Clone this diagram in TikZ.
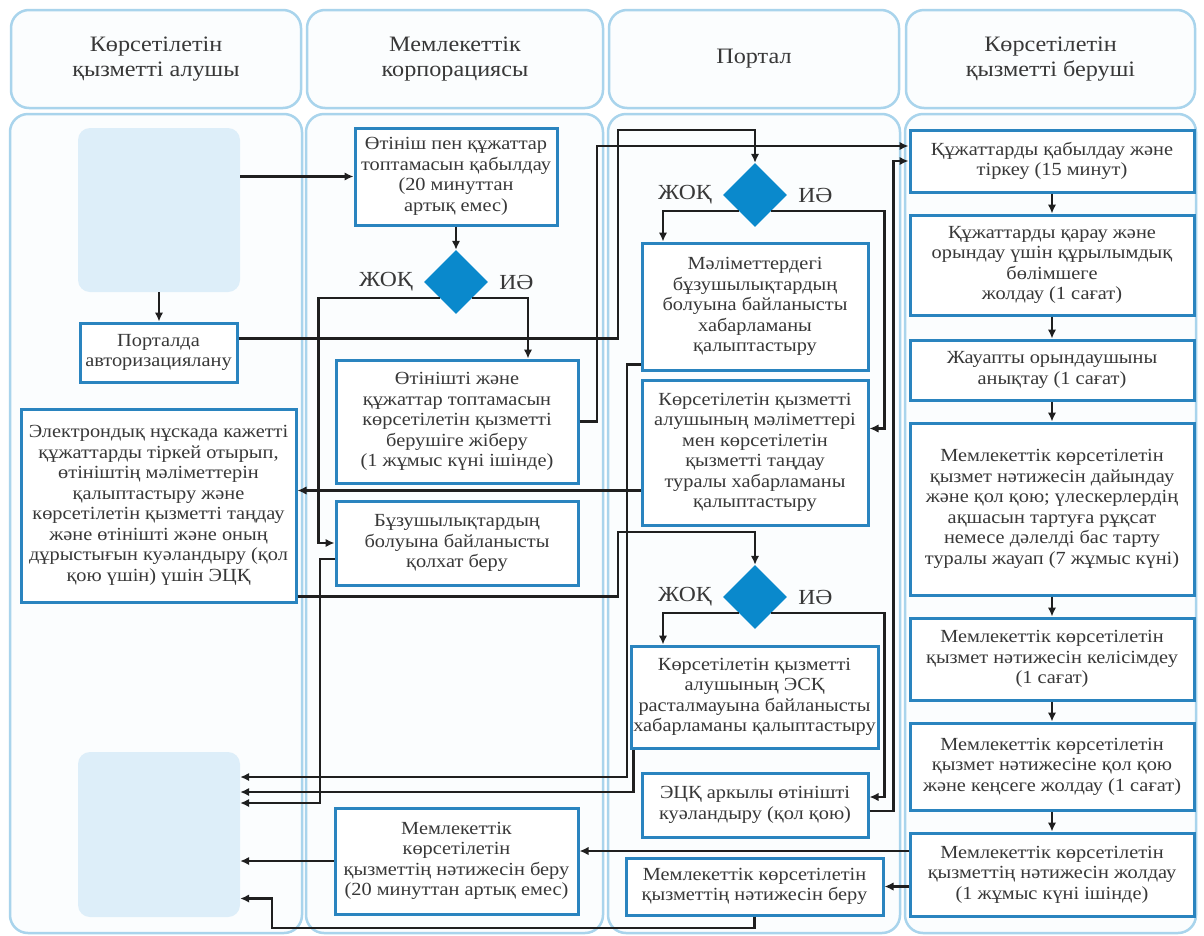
\documentclass[tikz,border=0pt]{standalone}
\usepackage{fontspec}
\setmainfont{Liberation Serif}[FakeStretch=1.1]
\usetikzlibrary{arrows.meta, shapes.geometric, positioning, calc}

\definecolor{lanecol}{HTML}{A9D4EC}
\definecolor{lanefill}{HTML}{FBFDFE}
\definecolor{boxcol}{HTML}{2A84BF}
\definecolor{phcol}{HTML}{DDEEF9}
\definecolor{deccol}{HTML}{0A89CC}
\definecolor{txtcol}{HTML}{383838}

\begin{document}
\begin{tikzpicture}[x=1pt, y=-1pt]

\tikzset{lane/.style = {draw=lanecol, line width=2.5, fill=lanefill, rounded corners=18}}
\tikzset{head/.style = {lane, align=center, text=txtcol, font=\fontsize{22}{25}\selectfont}}
\tikzset{box/.style = {shape=rectangle, draw=boxcol, line width=3, fill=white, align=center, inner sep=1, text=txtcol, font=\fontsize{18.5}{20.5}\selectfont}}
\tikzset{hole/.style = {fill=phcol, rounded corners=12, inner sep=0}}
\tikzset{choice/.style = {shape=diamond, fill=deccol, inner sep=0, minimum width=64, minimum height=64}}
\tikzset{yesno/.style = {text=txtcol, font=\fontsize{21.5}{21.5}\selectfont, inner sep=0}}
\tikzset{edge/.style = {->, > = {Latex[length=9pt, width=8.5pt]}, line width=2.2, draw=black!88}}

\fill[white] (0,0) rectangle (1204,935);
\useasboundingbox (0,0) rectangle (1204,935);
%lanes
\draw[lane] (10,114) rectangle (302,933);
\draw[lane] (306,114) rectangle (603,933);
\draw[lane] (608,114) rectangle (900,933);
\draw[lane] (905,114) rectangle (1196,933);
\node[head, minimum width=290, minimum height=98] (h1) at (156,59) {Көрсетілетін\\қызметті алушы};
\node[head, minimum width=296, minimum height=98] (h2) at (455,59) {Мемлекеттік\\корпорациясы};
\node[head, minimum width=290, minimum height=98] (h3) at (754,59) {Портал};
\node[head, minimum width=289, minimum height=98] (h4) at (1050.5,59) {Көрсетілетін\\қызметті беруші};

%boxes
\node[hole, minimum width=162, minimum height=164] (s1) at (159,210) {};
\node[box, minimum width=157, minimum height=59] (auth) at (158.5,352.5) {Порталда\\авторизациялану};
\node[box, minimum width=275, minimum height=193] (ecp) at (158.5,505.5) {Электрондық нұскада кажетті\\құжаттарды тіркей отырып,\\өтініштің мәліметтерін\\қалыптастыру және\\көрсетілетін қызметті таңдау\\және өтінішті және оның\\дұрыстығын куәландыру (қол\\қою үшін) үшін ЭЦҚ};
\node[hole, minimum width=162, minimum height=165] (s2) at (159,834.5) {};

\node[box, minimum width=202, minimum height=97] (rec) at (456,176.5) {Өтініш пен құжаттар\\топтамасын қабылдау\\(20 минуттан\\артық емес)};
\node[choice] (d1) at (456,282) {};
\node[yesno, left=11pt of d1] (n1) {ЖОҚ};
\node[yesno, right=11pt of d1] (y1) {ИӘ};
\node[box, minimum width=242, minimum height=123] (send) at (457,421.5) {Өтінішті және\\құжаттар топтамасын\\көрсетілетін қызметті\\берушіге жіберу\\(1 жұмыс күні ішінде)};
\node[box, minimum width=242, minimum height=84] (rcpt) at (457,543) {Бұзушылықтардың\\болуына байланысты\\қолхат беру};
\node[box, minimum width=243, minimum height=106] (res2) at (456.5,861) {Мемлекеттік\\көрсетілетін\\қызметтің нәтижесін беру\\(20 минуттан артық емес)};

\node[choice] (d2) at (755,195) {};
\node[yesno, left=11pt of d2] (n2) {ЖОҚ};
\node[yesno, right=11pt of d2] (y2) {ИӘ};
\node[box, minimum width=226, minimum height=127] (err) at (755,306.5) {Мәліметтердегі\\бұзушылықтардың\\болуына байланысты\\хабарламаны\\қалыптастыру};
\node[box, minimum width=226, minimum height=145] (ntf) at (755,452.5) {Көрсетілетін қызметті\\алушының мәліметтері\\мен көрсетілетін\\қызметті таңдау\\туралы хабарламаны\\қалыптастыру};
\node[choice] (d3) at (755,597) {};
\node[yesno, left=11pt of d3] (n3) {ЖОҚ};
\node[yesno, right=11pt of d3] (y3) {ИӘ};
\node[box, minimum width=247, minimum height=102] (esk) at (754.5,697) {Көрсетілетін қызметті\\алушының ЭСҚ\\расталмауына байланысты\\хабарламаны қалыптастыру};
\node[box, minimum width=226, minimum height=64] (sign) at (755,805) {ЭЦҚ аркылы өтінішті\\куәландыру (қол қою)};
\node[box, minimum width=257, minimum height=57] (res3) at (754.5,886.5) {Мемлекеттік көрсетілетін\\қызметтің нәтижесін беру};

\node[box, minimum width=284, minimum height=62] (b1) at (1052,161) {Құжаттарды қабылдау және\\тіркеу (15 минут)};
\node[box, minimum width=284, minimum height=100] (b2) at (1052,265) {Құжаттарды қарау және\\орындау үшін құрылымдық\\бөлімшеге\\жолдау (1 сағат)};
\node[box, minimum width=284, minimum height=60] (b3) at (1052,370) {Жауапты орындаушыны\\анықтау (1 сағат)};
\node[box, minimum width=284, minimum height=172] (b4) at (1052,509) {Мемлекеттік көрсетілетін\\қызмет нәтижесін дайындау\\және қол қою; үлескерлердің\\ақшасын тартуға рұқсат\\немесе дәлелді бас тарту\\туралы жауап (7 жұмыс күні)};
\node[box, minimum width=284, minimum height=82] (b5) at (1052,659) {Мемлекеттік көрсетілетін\\қызмет нәтижесін келісімдеу\\(1 сағат)};
\node[box, minimum width=284, minimum height=87] (b6) at (1052,766.5) {Мемлекеттік көрсетілетін\\қызмет нәтижесіне қол қою\\және кеңсеге жолдау (1 сағат)};
\node[box, minimum width=284, minimum height=83] (b7) at (1052,874.5) {Мемлекеттік көрсетілетін\\қызметтің нәтижесін жолдау\\(1 жұмыс күні ішінде)};

%edges
\draw[edge] (s1.east |- rec.west) -- (rec.west);
\draw[edge] (s1.south) -- (s1.south |- auth.north);
\draw[edge] (rec) -- (d1);
\draw[edge] (d1.south west) -| ($(rcpt.west)+(-16,0)$) -- (rcpt.west);
\draw[edge] (d1.south east) -| ($(send.north)+(71,0)$);
\draw[edge] ($(auth.east)+(0,-14)$) -| (618,130) -| (d2.north);
\draw[edge] (send.east) -| (597,146) -- ($(b1.west)+(0,-15)$);
\draw[edge] (d2.south west) -| ($(err.north)+(-92,0)$);
\draw[edge] (d2.south east) -| ($(ntf.east)+(15,-24)$) -- ($(ntf.east)+(0,-24)$);
\draw[edge] ($(err.south west)+(0,-7)$) -| (627,777) -- ($(s2.east)+(0,-57.5)$);
\draw[edge] ($(ntf.west)+(0,38)$) -- ($(ecp.east)+(0,-15)$);
\draw[edge] ($(ecp.east)+(0,91)$) -| (618,532) -| (d3.north);
\draw[edge] (d3.south west) -| ($(esk.north)+(-91.5,0)$);
\draw[edge] (d3.south east) -| ($(sign.east)+(15,-8)$) -- ($(sign.east)+(0,-8)$);
\draw[edge] ($(esk.south west)+(4,0)$) |- ($(s2.east)+(0,-42.5)$);
\draw[edge] ($(rcpt.west)+(0,16)$) -| (320,803) -- ($(s2.east)+(0,-31.5)$);
\draw[edge] ($(sign.east)+(0,6)$) -| ($(b1.west)+(-15,0)$) -- (b1.west);
\foreach \a/\b in {b1/b2, b2/b3, b3/b4, b4/b5, b5/b6, b6/b7}
  \draw[edge] (\a) -- (\b);
\draw[edge] ($(b7.west)+(0,-23.5)$) -- ($(res2.east)+(0,-10)$);
\draw[edge] (b7.west |- res3.east) -- (res3.east);
\draw[edge] (res2.west) -- (s2.east |- res2.west);
\draw[edge] (res3.south) |- (272,928) |- ($(s2.east)+(0,64)$);

\end{tikzpicture}
\end{document}
